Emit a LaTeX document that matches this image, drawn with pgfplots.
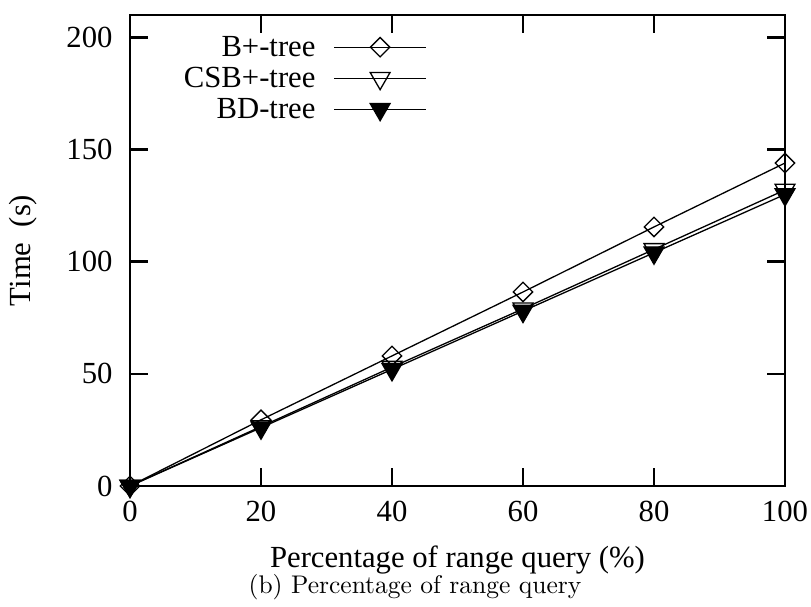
\documentclass[border=0pt]{standalone}
\usepackage{fontspec}
\usepackage{pgfplots}
\pgfplotsset{compat=1.18}
\newfontfamily\tms{Liberation Serif}
\newfontfamily\lmten{lmroman10-regular}[Extension=.otf]
\newcommand{\chartfont}{\tms\fontsize{30.8}{36}\selectfont}
\begin{document}
\begin{tikzpicture}
\useasboundingbox (-130bp,-121bp) rectangle (681bp,486bp);
\begin{axis}[
  name=ax,
  scale only axis,
  width=655bp, height=471bp,
  xmin=0, xmax=100, ymin=0, ymax=210,
  xtick={0,20,40,60,80,100},
  ytick={0,50,100,150,200},
  xtick pos=both, ytick pos=both,
  tick align=inside,
  major tick length=18bp,
  axis line style={line width=2.6bp},
  every tick/.style={black, line width=2.6bp},
  /pgf/number format/assume math mode=true,
  ticklabel style={font=\chartfont},
  xticklabel style={yshift=-12bp},
  yticklabel style={xshift=-14bp},
  label style={font=\chartfont},
  xlabel={Percentage of range query (\%)},
  xlabel style={at={(axis description cs:0.5,0)}, anchor=base, yshift=-81bp},
  ylabel={Time\ \ (s)},
  ylabel style={at={(axis description cs:0,0.5)}, anchor=center, yshift=107bp},
  legend plot pos=right,
  legend cell align=right,
  legend style={draw=none, fill=none, font=\chartfont, inner sep=0pt,
    at={(axis description cs:0.4534,0.9597)}, anchor=north east,
    nodes={text height=20bp, text depth=2bp, inner sep=2bp},
    row sep=5bp, column sep=16bp},
  legend image code/.code={\draw[mark repeat=2,mark phase=2,#1] plot coordinates {(0bp,0bp) (46bp,0bp) (92bp,0bp)};},
  every axis plot/.append style={black, line width=1.3bp, mark options={solid, line width=1.3bp}},
]
\addplot[mark=square, mark size=9.5bp, mark options={rotate=45, scale=0.72, fill=white}] coordinates {(0,0) (20,29.5) (40,58) (60,86.5) (80,115.5) (100,144)};
\addlegendentry{B+-tree}
\addplot[mark=triangle, mark size=11.5bp, mark options={rotate=180, fill=white}] coordinates {(0,0) (20,26.5) (40,53) (60,79) (80,105.5) (100,132)};
\addlegendentry{CSB+-tree}
\addplot[mark=triangle*, mark size=11.5bp, mark options={rotate=180, fill=black}] coordinates {(0,0) (20,26) (40,52) (60,78) (80,104) (100,130)};
\addlegendentry{BD-tree}
\end{axis}
\node[anchor=base, font=\lmten\fontsize{25.6}{30}\selectfont] at (285bp,-107bp) {(b) Percentage of range query};
\end{tikzpicture}
\end{document}
